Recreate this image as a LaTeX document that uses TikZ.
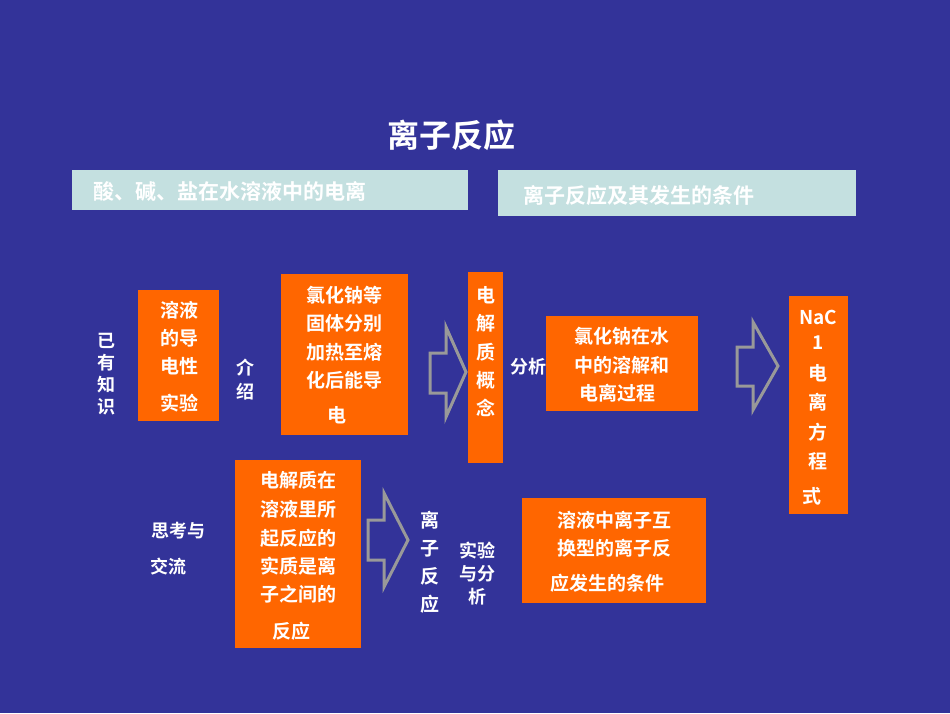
\documentclass[tikz,border=0pt]{standalone}
\usepackage{fontspec}
\setmainfont{Noto Sans CJK SC}[BoldFont={* Bold}]
\begin{document}
\begin{tikzpicture}[x=1pt,y=-1pt,
  ob/.style={fill=orgc,draw=none},
  lb/.style={fill=lightc,draw=none},
  t/.style={text=white,font=\fontsize{19}{19}\selectfont\bfseries,inner sep=0pt},
  tb/.style={text=black,font=\fontsize{18}{18}\selectfont\bfseries,inner sep=0pt},
  arr/.style={draw=gray!80,line width=3pt,line join=miter,fill=none}]
\definecolor{bg}{HTML}{333399}
\definecolor{orgc}{HTML}{FF6600}
\definecolor{lightc}{HTML}{C4E0E0}
\useasboundingbox (0,0) rectangle (950,713);
\fill[bg] (0,0) rectangle (950,713);
\node[t,font=\fontsize{32}{32}\selectfont\bfseries] (title) at (451,135) {离子反应};
\fill[lb] (72,170) rectangle (468,210);
\node[t,anchor=west,font=\fontsize{21}{21}\selectfont\bfseries] (h1) at (93,191) {酸、碱、盐在水溶液中的电离};
\fill[lb] (498,170) rectangle (856,216);
\node[t,anchor=west,font=\fontsize{21}{21}\selectfont\bfseries] (h2) at (523,195) {离子反应及其发生的条件};
% left labels
\node[tb,text=white,align=center] (yy) at (106,374) {已\\[4pt]有\\[4pt]知\\[4pt]识};
\node[tb,text=white,align=center] (js) at (245,380) {介\\[6pt]绍};
\node[tb,text=white] (fx) at (528,367) {分析};
\node[tb,text=white] (sk1) at (178,531) {思考与};
\node[tb,text=white] (sk2) at (168,567) {交流};
\node[t,align=center] (lz) at (430,562) {离\\[9pt]子\\[9pt]反\\[9pt]应};
\node[tb,text=white,align=center] (sy) at (477,574) {实验\\[5pt]与分\\[5pt]析};
% boxes
\fill[ob] (138,290) rectangle (219,421);
\node[t] at (179,310) {溶液};
\node[t] at (179,338) {的导};
\node[t] at (179,366) {电性};
\node[t] at (179,403) {实验};
\fill[ob] (281,274) rectangle (408,435);
\node[t] at (344,295) {氯化钠等};
\node[t] at (344,323) {固体分别};
\node[t] at (344,352) {加热至熔};
\node[t] at (344,380) {化后能导};
\node[t] at (337,415) {电};
\fill[ob] (468,272) rectangle (503,463);
\foreach \c/\y in {电/295,解/323,质/352,概/380,念/408} \node[t] at (486,\y) {\c};
\fill[ob] (546,316) rectangle (698,411);
\node[t] at (622,336) {氯化钠在水};
\node[t] at (622,365) {中的溶解和};
\node[t] at (617,393) {电离过程};
\fill[ob] (789,296) rectangle (848,514);
\node[t] at (818,317) {NaC};
\node[t] at (818,343) {1};
\foreach \c/\y in {电/373,离/402,方/432,程/461} \node[t] at (818,\y) {\c};
\node[t] at (812,496) {式};
\fill[ob] (235,460) rectangle (361,648);
\node[t] at (298,480) {电解质在};
\node[t] at (298,509) {溶液里所};
\node[t] at (298,538) {起反应的};
\node[t] at (298,566) {实质是离};
\node[t] at (298,594) {子之间的};
\node[t] at (291,631) {反应};
\fill[ob] (522,498) rectangle (706,603);
\node[t] at (614,520) {溶液中离子互};
\node[t] at (614,548) {换型的离子反};
\node[t] at (607,583) {应发生的条件};
% hollow block arrows
\draw[arr] (430,353) -- (446,353) -- (446,327) -- (466,372) -- (446,417) -- (446,393) -- (430,393) -- cycle;
\draw[arr] (737,347) -- (753,347) -- (753,322) -- (778,366) -- (753,410) -- (753,386) -- (737,386) -- cycle;
\draw[arr] (368,520) -- (384,520) -- (384,493) -- (408,540) -- (384,587) -- (384,560) -- (368,560) -- cycle;
\end{tikzpicture}
\end{document}
